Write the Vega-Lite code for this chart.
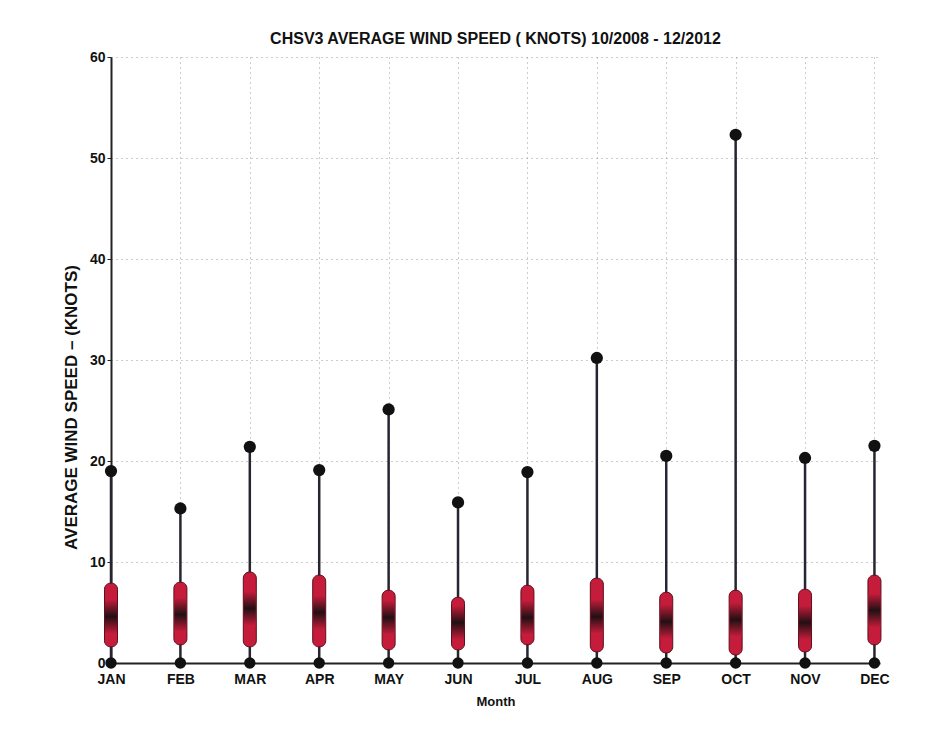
{
  "$schema": "https://vega.github.io/schema/vega-lite/v6.json",
  "autosize": {"type": "none"},
  "width": 769,
  "height": 606,
  "padding": {"left": 111, "top": 57, "right": 62, "bottom": 67},
  "background": "white",
  "config": {
    "view": {"stroke": null},
    "font": "Liberation Sans, sans-serif"
  },
  "title": {
    "text": "CHSV3  AVERAGE WIND SPEED ( KNOTS) 10/2008 - 12/2012",
    "fontSize": 16,
    "fontWeight": "bold",
    "color": "#111",
    "offset": 3,
    "font": "Liberation Sans, sans-serif"
  },
  "data": {
    "values": [
      {"m": 1, "month": "JAN", "lo": 0, "q1": 1.6, "med": 4.6, "q3": 7.9, "hi": 19.0},
      {"m": 2, "month": "FEB", "lo": 0, "q1": 1.8, "med": 4.8, "q3": 8.0, "hi": 15.3},
      {"m": 3, "month": "MAR", "lo": 0, "q1": 1.6, "med": 5.4, "q3": 9.0, "hi": 21.4},
      {"m": 4, "month": "APR", "lo": 0, "q1": 1.6, "med": 5.0, "q3": 8.7, "hi": 19.1},
      {"m": 5, "month": "MAY", "lo": 0, "q1": 1.3, "med": 4.5, "q3": 7.2, "hi": 25.1},
      {"m": 6, "month": "JUN", "lo": 0, "q1": 1.3, "med": 4.0, "q3": 6.5, "hi": 15.9},
      {"m": 7, "month": "JUL", "lo": 0, "q1": 1.8, "med": 4.5, "q3": 7.7, "hi": 18.9},
      {"m": 8, "month": "AUG", "lo": 0, "q1": 1.1, "med": 4.6, "q3": 8.4, "hi": 30.2},
      {"m": 9, "month": "SEP", "lo": 0, "q1": 1.0, "med": 4.1, "q3": 7.0, "hi": 20.5},
      {"m": 10, "month": "OCT", "lo": 0, "q1": 0.8, "med": 4.3, "q3": 7.2, "hi": 52.3},
      {"m": 11, "month": "NOV", "lo": 0, "q1": 1.1, "med": 4.0, "q3": 7.3, "hi": 20.3},
      {"m": 12, "month": "DEC", "lo": 0, "q1": 1.8, "med": 5.2, "q3": 8.7, "hi": 21.5}
    ]
  },
  "encoding": {
    "x": {
      "field": "m",
      "type": "quantitative",
      "scale": {"domain": [1, 12.08], "nice": false, "zero": false, "padding": 0},
      "axis": {
        "title": "Month",
        "titleFontSize": 13,
        "titleFontWeight": "bold",
        "titleColor": "#111",
        "titlePadding": 9,
        "values": [1, 2, 3, 4, 5, 6, 7, 8, 9, 10, 11, 12],
        "labelExpr": "['JAN','FEB','MAR','APR','MAY','JUN','JUL','AUG','SEP','OCT','NOV','DEC'][datum.value - 1]",
        "labelFontSize": 14,
        "labelFontWeight": "bold",
        "labelColor": "#111",
        "labelPadding": 9,
        "labelFlush": false,
        "ticks": false,
        "domainColor": "#222",
        "domainWidth": 2,
        "grid": true,
        "gridColor": "#999",
        "gridDash": [1, 4],
        "gridWidth": 1
      }
    }
  },
  "layer": [
    {
      "mark": {"type": "rule", "strokeWidth": 2.5, "color": "#262633"},
      "encoding": {
        "y": {
          "field": "lo",
          "type": "quantitative",
          "scale": {"domain": [0, 60], "nice": false},
          "axis": {
            "title": "AVERAGE WIND SPEED \u2013 (KNOTS)",
            "titleFontSize": 17,
            "titleFontWeight": "bold",
            "titleColor": "#111",
            "titlePadding": 9,
            "titleY": 350,
            "values": [0, 10, 20, 30, 40, 50, 60],
            "labelFontSize": 14,
            "labelFontWeight": "bold",
            "labelColor": "#111",
            "labelPadding": 2,
            "tickSize": 4,
            "tickColor": "#222",
            "domainColor": "#222",
            "domainWidth": 2,
            "grid": true,
            "gridColor": "#999",
            "gridDash": [1, 4],
            "gridWidth": 1
          }
        },
        "y2": {"field": "hi"}
      }
    },
    {
      "mark": {"type": "bar", "size": 13, "cornerRadius": 6, "color": "#c41c3a", "stroke": "#5e0e1c", "strokeWidth": 1},
      "encoding": {
        "y": {"field": "q1", "type": "quantitative"},
        "y2": {"field": "q3"}
      }
    },
    {
      "mark": {
        "type": "tick",
        "orient": "horizontal",
        "size": 12,
        "thickness": 34,
        "fill": {
          "gradient": "linear",
          "x1": 0, "y1": 0, "x2": 0, "y2": 1,
          "stops": [
            {"offset": 0, "color": "#c41c3a"},
            {"offset": 0.5, "color": "#221014"},
            {"offset": 1, "color": "#c41c3a"}
          ]
        },
        "opacity": 1
      },
      "encoding": {
        "y": {"field": "med", "type": "quantitative"}
      }
    },
    {
      "mark": {"type": "point", "filled": true, "size": 150, "color": "#111", "opacity": 1},
      "encoding": {
        "y": {"field": "hi", "type": "quantitative"}
      }
    },
    {
      "mark": {"type": "point", "filled": true, "size": 130, "color": "#111", "opacity": 1},
      "encoding": {
        "y": {"field": "lo", "type": "quantitative"}
      }
    }
  ]
}
